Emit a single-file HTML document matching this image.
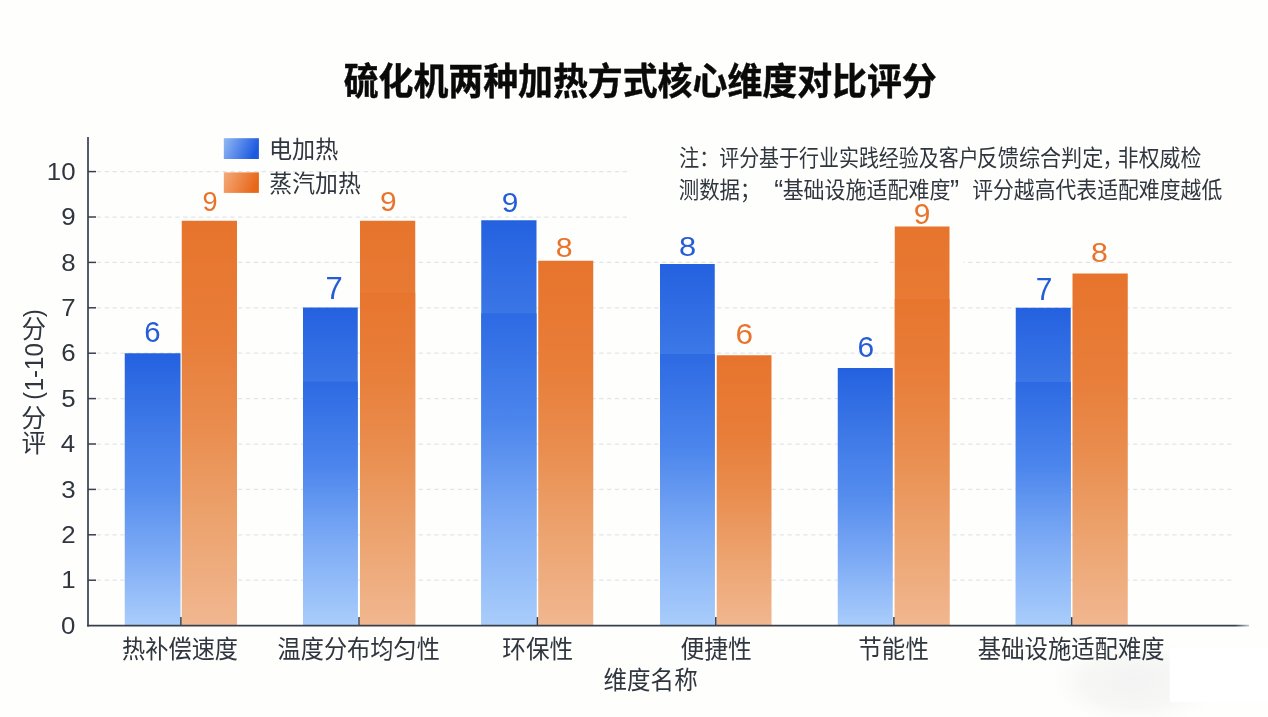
<!DOCTYPE html>
<html lang="zh-CN"><head><meta charset="utf-8"><title>硫化机两种加热方式核心维度对比评分</title>
<style>
html,body{margin:0;padding:0;background:#fefefc;}
body{width:1268px;height:717px;overflow:hidden;font-family:"Liberation Sans", "Noto Sans CJK SC", sans-serif;}
svg{display:block;font-family:"Liberation Sans", "Noto Sans CJK SC", sans-serif;}
</style></head><body>
<svg width="1268" height="717" viewBox="0 0 1268 717">
<defs>
<linearGradient id="gb" x1="0" y1="0" x2="0" y2="1"><stop offset="0" stop-color="#2461df"/><stop offset="0.25" stop-color="#3d78e7"/><stop offset="0.5" stop-color="#558dee"/><stop offset="0.75" stop-color="#7eabf5"/><stop offset="1" stop-color="#a9cdfb"/></linearGradient>
<linearGradient id="gb2" x1="0" y1="0" x2="0" y2="1"><stop offset="0" stop-color="#2d6ae3"/><stop offset="0.34" stop-color="#4b85ec"/><stop offset="0.66" stop-color="#7dabf5"/><stop offset="1" stop-color="#a9cdfb"/></linearGradient>
<linearGradient id="go2" x1="0" y1="0" x2="0" y2="1"><stop offset="0" stop-color="#e7752e"/><stop offset="0.25" stop-color="#e87f3b"/><stop offset="0.45" stop-color="#e98c4d"/><stop offset="0.7" stop-color="#eca16b"/><stop offset="1" stop-color="#f1b790"/></linearGradient>
<linearGradient id="go" x1="0" y1="0" x2="0" y2="1"><stop offset="0" stop-color="#e7742c"/><stop offset="0.3" stop-color="#e87e3a"/><stop offset="0.5" stop-color="#e98c4d"/><stop offset="0.72" stop-color="#eca16b"/><stop offset="1" stop-color="#f1b790"/></linearGradient>
<linearGradient id="lb" x1="0" y1="0" x2="1" y2="0.25"><stop offset="0" stop-color="#93b9f4"/><stop offset="1" stop-color="#1d5ae0"/></linearGradient>
<linearGradient id="lo" x1="0" y1="0" x2="1" y2="0.25"><stop offset="0" stop-color="#f3aa7a"/><stop offset="1" stop-color="#e8681a"/></linearGradient>
<radialGradient id="cg" cx="0.5" cy="0.5" r="0.5"><stop offset="0" stop-color="#f3f3f3"/><stop offset="0.55" stop-color="#f7f7f6"/><stop offset="1" stop-color="#fefefc" stop-opacity="0"/></radialGradient>
<linearGradient id="axf" gradientUnits="userSpaceOnUse" x1="1180" y1="0" x2="1249" y2="0"><stop offset="0" stop-color="#38404d"/><stop offset="0.8" stop-color="#38404d"/><stop offset="1" stop-color="#38404d" stop-opacity="0.3"/></linearGradient>
</defs>
<rect width="1268" height="717" fill="#fefefc"/>
<ellipse cx="1135" cy="682" rx="95" ry="48" fill="url(#cg)"/>
<rect x="1169.7" y="647.8" width="98.3" height="54" fill="#ffffff"/>

<line x1="96.8" y1="580.2" x2="1234" y2="580.2" stroke="#e1e5ea" stroke-width="1.25" stroke-dasharray="4.3 3.55"/>
<line x1="96.8" y1="534.8" x2="1234" y2="534.8" stroke="#e1e5ea" stroke-width="1.25" stroke-dasharray="4.3 3.55"/>
<line x1="96.8" y1="489.4" x2="1234" y2="489.4" stroke="#e1e5ea" stroke-width="1.25" stroke-dasharray="4.3 3.55"/>
<line x1="96.8" y1="444.0" x2="1234" y2="444.0" stroke="#e1e5ea" stroke-width="1.25" stroke-dasharray="4.3 3.55"/>
<line x1="96.8" y1="398.6" x2="1234" y2="398.6" stroke="#e1e5ea" stroke-width="1.25" stroke-dasharray="4.3 3.55"/>
<line x1="96.8" y1="353.2" x2="1234" y2="353.2" stroke="#e1e5ea" stroke-width="1.25" stroke-dasharray="4.3 3.55"/>
<line x1="96.8" y1="307.8" x2="1234" y2="307.8" stroke="#e1e5ea" stroke-width="1.25" stroke-dasharray="4.3 3.55"/>
<line x1="96.8" y1="262.4" x2="1234" y2="262.4" stroke="#e1e5ea" stroke-width="1.25" stroke-dasharray="4.3 3.55"/>
<line x1="96.8" y1="217.0" x2="630.6" y2="217.0" stroke="#e1e5ea" stroke-width="1.25" stroke-dasharray="4.3 3.55"/>
<line x1="96.8" y1="171.6" x2="630.6" y2="171.6" stroke="#e1e5ea" stroke-width="1.25" stroke-dasharray="4.3 3.55"/>
<rect x="881.5" y="260" width="5" height="6" fill="#fefefc"/>
<rect x="949.5" y="260" width="14" height="6" fill="#fefefc"/>
<rect x="124.75" y="353.25" width="55.75" height="272.35" fill="url(#gb)"/>
<rect x="303" y="307.5" width="54.75" height="318.10" fill="url(#gb)"/>
<rect x="303" y="381.7" width="54.75" height="243.90" fill="url(#gb2)"/>
<rect x="481.25" y="220.25" width="55.25" height="405.35" fill="url(#gb)"/>
<rect x="481.25" y="313.3" width="55.25" height="312.30" fill="url(#gb2)"/>
<rect x="660" y="264" width="54.75" height="361.60" fill="url(#gb)"/>
<rect x="660" y="354" width="54.75" height="271.60" fill="url(#gb2)"/>
<rect x="837.75" y="368" width="55.00" height="257.60" fill="url(#gb)"/>
<rect x="1015.75" y="307.75" width="55.00" height="317.85" fill="url(#gb)"/>
<rect x="1015.75" y="382" width="55.00" height="243.60" fill="url(#gb2)"/>
<rect x="181.75" y="220.75" width="55.25" height="404.85" fill="url(#go)"/>
<rect x="360" y="220.75" width="55.25" height="404.85" fill="url(#go)"/>
<rect x="360" y="292.6" width="55.25" height="333.00" fill="url(#go2)"/>
<rect x="538.25" y="260.75" width="55.00" height="364.85" fill="url(#go)"/>
<rect x="716.75" y="355.25" width="54.75" height="270.35" fill="url(#go)"/>
<rect x="894.75" y="226.5" width="54.75" height="399.10" fill="url(#go)"/>
<rect x="894.75" y="299" width="54.75" height="326.60" fill="url(#go2)"/>
<rect x="1072.5" y="273.5" width="55.25" height="352.10" fill="url(#go)"/>
<line x1="88" y1="137" x2="88" y2="626.4" stroke="#38404d" stroke-width="1.7"/>
<line x1="87.2" y1="625.6" x2="1249" y2="625.6" stroke="url(#axf)" stroke-width="1.6"/>
<text transform="translate(61.05,633.72) scale(1.06,1)" font-size="24.4" fill="#30363f">0</text>
<line x1="88" y1="580.2" x2="96" y2="580.2" stroke="#38404d" stroke-width="1.5"/>
<text transform="translate(61.31,588.32) scale(1.06,1)" font-size="24.4" fill="#30363f">1</text>
<line x1="88" y1="534.8" x2="96" y2="534.8" stroke="#38404d" stroke-width="1.5"/>
<text transform="translate(61.31,543.04) scale(1.06,1)" font-size="24.4" fill="#30363f">2</text>
<line x1="88" y1="489.4" x2="96" y2="489.4" stroke="#38404d" stroke-width="1.5"/>
<text transform="translate(61.31,497.52) scale(1.06,1)" font-size="24.4" fill="#30363f">3</text>
<line x1="88" y1="444.0" x2="96" y2="444.0" stroke="#38404d" stroke-width="1.5"/>
<text transform="translate(60.79,452.24) scale(1.06,1)" font-size="24.4" fill="#30363f">4</text>
<line x1="88" y1="398.6" x2="96" y2="398.6" stroke="#38404d" stroke-width="1.5"/>
<text transform="translate(61.31,406.60) scale(1.06,1)" font-size="24.4" fill="#30363f">5</text>
<line x1="88" y1="353.2" x2="96" y2="353.2" stroke="#38404d" stroke-width="1.5"/>
<text transform="translate(61.31,361.32) scale(1.06,1)" font-size="24.4" fill="#30363f">6</text>
<line x1="88" y1="307.8" x2="96" y2="307.8" stroke="#38404d" stroke-width="1.5"/>
<text transform="translate(61.31,316.04) scale(1.06,1)" font-size="24.4" fill="#30363f">7</text>
<line x1="88" y1="262.4" x2="96" y2="262.4" stroke="#38404d" stroke-width="1.5"/>
<text transform="translate(61.31,270.52) scale(1.06,1)" font-size="24.4" fill="#30363f">8</text>
<line x1="88" y1="217.0" x2="96" y2="217.0" stroke="#38404d" stroke-width="1.5"/>
<text transform="translate(61.31,225.12) scale(1.06,1)" font-size="24.4" fill="#30363f">9</text>
<line x1="88" y1="171.6" x2="96" y2="171.6" stroke="#38404d" stroke-width="1.5"/>
<text transform="translate(46.83,179.72) scale(1.06,1)" font-size="24.4" fill="#30363f">10</text>
<line x1="180.9" y1="625.6" x2="180.9" y2="617.1" stroke="#38404d" stroke-width="1.5"/>
<line x1="359" y1="625.6" x2="359" y2="617.1" stroke="#38404d" stroke-width="1.5"/>
<line x1="537.4" y1="625.6" x2="537.4" y2="617.1" stroke="#38404d" stroke-width="1.5"/>
<line x1="715.8" y1="625.6" x2="715.8" y2="617.1" stroke="#38404d" stroke-width="1.5"/>
<line x1="893.9" y1="625.6" x2="893.9" y2="617.1" stroke="#38404d" stroke-width="1.5"/>
<line x1="1071.7" y1="625.6" x2="1071.7" y2="617.1" stroke="#38404d" stroke-width="1.5"/>
<text transform="translate(144.28,342.46) scale(1.0042,1)" font-size="29.23" fill="#255cd7">6</text>
<text transform="translate(325.45,298.81) scale(1.0152,1)" font-size="30.51" fill="#255cd7">7</text>
<text transform="translate(501.76,211.72) scale(1.0611,1)" font-size="28.17" fill="#255cd7">9</text>
<text transform="translate(679.02,256.23) scale(1.1233,1)" font-size="27.46" fill="#255cd7">8</text>
<text transform="translate(857.51,356.71) scale(1.0353,1)" font-size="28.87" fill="#255cd7">6</text>
<text transform="translate(1035.76,300.06) scale(0.9796,1)" font-size="30.51" fill="#255cd7">7</text>
<text transform="translate(202.39,210.73) scale(1.0154,1)" font-size="26.76" fill="#e8742c">9</text>
<text transform="translate(380.01,211.23) scale(1.0884,1)" font-size="27.46" fill="#e8742c">9</text>
<text transform="translate(555.79,256.73) scale(1.1183,1)" font-size="27.11" fill="#e8742c">8</text>
<text transform="translate(735.42,343.71) scale(1.0917,1)" font-size="28.87" fill="#e8742c">6</text>
<text transform="translate(913.76,224.21) scale(1.0353,1)" font-size="28.87" fill="#e8742c">9</text>
<text transform="translate(1091.04,262.48) scale(1.1183,1)" font-size="27.11" fill="#e8742c">8</text>
<text transform="translate(343.65,95.03) scale(0.9316,1)" font-size="37.45" font-weight="bold" fill="#0a0a0a" stroke="#0a0a0a" stroke-width="0.45">硫化机两种加热方式核心维度对比评分</text>
<text transform="translate(269.00,157.89) scale(0.9659,1)" font-size="23.91" fill="#30363f">电加热</text>
<text transform="translate(269.36,191.78) scale(0.9706,1)" font-size="23.55" fill="#30363f">蒸汽加热</text>
<text transform="translate(122.09,658.30) scale(0.9266,1)" font-size="25.05" fill="#30363f">热补偿速度</text>
<text transform="translate(277.59,658.27) scale(0.9156,1)" font-size="25.33" fill="#30363f">温度分布均匀性</text>
<text transform="translate(502.30,658.27) scale(0.9328,1)" font-size="25.33" fill="#30363f">环保性</text>
<text transform="translate(680.55,658.27) scale(0.9396,1)" font-size="25.33" fill="#30363f">便捷性</text>
<text transform="translate(858.34,658.27) scale(0.9291,1)" font-size="25.33" fill="#30363f">节能性</text>
<text transform="translate(977.83,658.27) scale(0.9221,1)" font-size="25.33" fill="#30363f">基础设施适配难度</text>
<text transform="translate(603.56,688.83) scale(0.9578,1)" font-size="24.57" fill="#30363f">维度名称</text>
<g><text transform="translate(679.30,166.49) scale(0.8927,1)" font-size="22.37" fill="#30363f">注：评分基于行业实践经验及客户</text><text transform="translate(976.73,166.49) scale(0.9432,1)" font-size="22.37" fill="#30363f">反馈综合判定</text><text transform="translate(1102.77,166.49) scale(0.8707,1)" font-size="22.37" fill="#30363f">，</text><text transform="translate(1117.75,166.49) scale(0.9344,1)" font-size="22.37" fill="#30363f">非权威检</text></g>
<g><text transform="translate(678.78,197.60) scale(0.9133,1)" font-size="22.37" fill="#30363f">测数据；</text><text transform="translate(774.23,199.80) scale(0.8876,1)" font-size="30.19" fill="#30363f">“</text><text transform="translate(782.65,197.60) scale(0.9378,1)" font-size="22.37" fill="#30363f">基础设施适配难度</text><text transform="translate(950.11,199.80) scale(0.9044,1)" font-size="30.19" fill="#30363f">”</text><text transform="translate(972.17,197.60) scale(0.9321,1)" font-size="22.37" fill="#30363f">评分越高代表适配难度越低</text></g>
<g><text transform="translate(21.42,451.98) scale(0.9717,1)" font-size="25.28" fill="#30363f">评</text><text transform="translate(21.16,426.67) scale(1.0044,1)" font-size="24.73" fill="#30363f">分 </text><text transform="translate(41.66,399.52) rotate(-90) scale(0.8310,1)" font-size="26.38" fill="#30363f">(</text><text transform="translate(43.04,391.22) rotate(-90) scale(0.9157,1)" font-size="26.20" fill="#30363f">1-10</text><text transform="translate(21.69,338.28) scale(0.9866,1)" font-size="24.62" fill="#30363f">分</text><text transform="translate(41.66,317.34) rotate(-90) scale(0.9184,1)" font-size="26.38" fill="#30363f">)</text></g>
<rect x="223.8" y="138.2" width="35.1" height="20.8" fill="url(#lb)"/>
<rect x="223.8" y="172.4" width="35.1" height="20.5" fill="url(#lo)"/>
</svg></body></html>
